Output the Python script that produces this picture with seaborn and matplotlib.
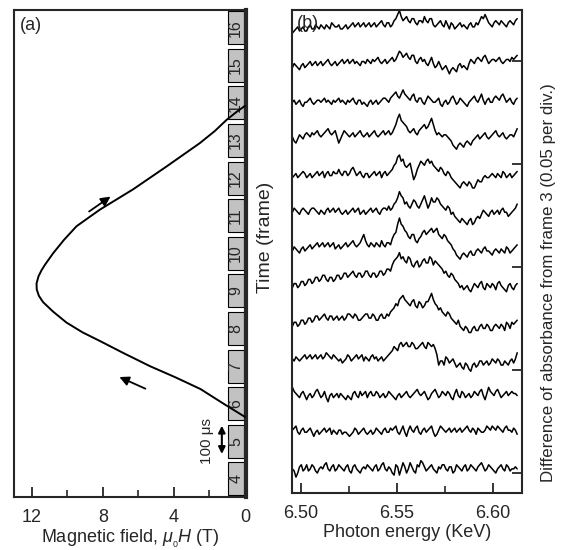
import numpy as np
import pandas as pd
import matplotlib
matplotlib.use('Agg')
import matplotlib.pyplot as plt
import seaborn as sns
from matplotlib.patches import Rectangle

# (a) pulsed field: time in frames vs field in T
pulse_frame = [5.65, 6.0, 6.39, 6.7, 7.0, 7.35, 7.67, 7.9, 8.16, 8.45, 8.7, 8.87, 9.04, 9.2,
               9.39, 9.55, 9.7, 10.0, 10.35, 10.72, 11.16, 11.7, 12.31, 12.93, 13.25, 13.55,
               13.75, 13.92]
pulse_field = [0.0, 1.2, 2.5, 3.9, 5.35, 6.85, 8.17, 9.15, 10.05, 10.8, 11.36, 11.6, 11.72, 11.73,
               11.62, 11.45, 11.25, 10.8, 10.2, 9.48, 8.17, 6.3, 4.41, 2.54, 1.7, 1.03,
               0.5, 0.0]
frames = list(range(4, 17))

# (b) difference spectra (1e-3 absorbance) for frames 4..16
# coarse samples (64 per frame) ...
spectra = {
    4: [0, -4, 1, -1, 2, 0, 1, -2, 1, 2, 0, 1, -1, 2, 0, 1,
        -1, 1, 0, -2, 1, 2, 0, 1, -1, 2, 0, 1, -2, 2, -3, 3,
        -2, 3, -1, 2, 4, 1, 0, 2, -1, 1, 2, 0, 1, -2, 2, 0,
        1, -1, 2, 0, 1, 3, -1, 2, 0, -2, 1, 0, 2, -1, 0, 0],
    5: [1, 3, -1, 2, 0, 2, -2, 1, 0, 2, 1, -1, 0, 1, -1, 0,
        -2, 0, 1, 0, 2, -1, 1, 0, 1, -1, 2, 0, 1, 3, -1, 3,
        -2, 3, 0, 3, -1, 2, 1, 3, -2, 1, 2, 0, 2, 1, 0, 2,
        1, 3, 0, 1, 2, 0, 1, 2, 3, 1, 2, 0, 3, 1, 2, -1],
    6: [4, 1, -1, 2, -2, 1, 0, 3, -1, 2, -3, 1, 0, -1, 0, -2,
        -1, 1, 0, 2, 1, -1, 2, 0, 1, 0, -1, 2, 0, -2, 1, 0,
        2, -1, 1, 3, 0, 2, -2, 1, 3, -1, 2, 0, 1, -2, 3, -1,
        1, 0, -1, 2, 0, 3, -2, 4, 1, 2, 1, 0, 2, 1, 1, 0],
    7: [0, 1, -1, 1, 0, 2, 1, 0, 2, 1, 2, 0, 1, -1, -2, 0,
        1, 0, 2, 1, -1, 0, 1, 0, -1, 1, 0, 2, 4, 5, 7, 6,
        8, 6, 7, 5, 7, 6, 8, 6, 5, -3, -1, 1, -2, 0, -4, -2,
        -5, -3, -6, -2, -3, -1, -2, -3, 0, -2, -1, -3, -2, -1, -2, 3],
    8: [-2, 0, -1, 1, 0, 2, 1, 3, 2, 4, 1, 3, 2, 1, 3, 2,
        4, 2, 3, 1, 3, 4, 2, 3, 1, 4, 2, 3, 6, 9, 11, 13,
        10, 8, 11, 7, 9, 8, 10, 14, 9, 6, 5, 3, 4, 1, -1, -2,
        -4, -3, -5, -2, -4, -1, -3, -2, -4, -1, -3, -2, 0, -3, -1, 1],
    9: [-1, 1, 0, 2, 1, 3, 2, 4, 3, 5, 2, 4, 3, 5, 4, 6,
        5, 7, 4, 6, 5, 7, 4, 6, 5, 7, 6, 8, 10, 13, 16, 14,
        11, 13, 9, 12, 10, 13, 11, 13, 12, 10, 8, 7, 4, 5, 2, -1,
        -2, 0, -3, 1, -1, 2, -2, 0, 1, -2, 2, -1, -3, 1, -2, 1],
    10: [-1, 0, -2, 1, 0, 2, 1, 3, 2, 1, 3, 2, 0, 2, 1, 3,
         2, 4, 1, 3, 7, 2, 3, 1, 2, 4, 1, 3, 5, 8, 15, 11,
         8, 5, 7, 3, 6, 9, 8, 10, 9, 7, 5, 6, 3, 0, -3, -5,
         -2, -4, -1, -3, 0, -2, 1, -1, -3, 0, -2, -1, 1, -2, 0, 2],
    11: [0, 1, -1, 2, 0, 1, 2, 0, 1, -1, 2, 1, 0, 2, -1, 1,
         0, 2, 1, -1, 1, 0, 2, 1, 0, 1, 2, 3, 2, 5, 10, 7,
         5, 2, 6, 3, 4, 8, 2, 7, 5, 6, 3, 1, 2, 0, -3, -5,
         -4, -6, -3, -5, -2, -1, 0, -2, 1, 0, -1, 2, 0, -1, 1, 4],
    12: [-1, 1, 0, 2, -1, 1, 0, 2, 1, -1, 2, 0, 1, 3, 0, 2,
         1, 4, 0, 2, -1, 1, 0, 2, 1, -1, 2, 1, 3, 6, 10, 8,
         4, 6, -2, 3, 7, 5, 8, 7, 4, 2, 3, 0, 1, -2, -4, -6,
         -3, -5, -4, -6, -2, -3, 0, -1, 1, -1, 0, 2, -1, 1, 0, 2],
    13: [1, -2, 2, 0, 3, 1, 2, 4, 1, 3, 5, 2, 4, -2, 2, 3,
         1, 3, 2, 4, 1, 3, 2, 4, 1, 3, 2, 4, 3, 7, 12, 8,
         6, 3, 5, 2, 5, 7, 6, 10, 4, 3, 1, 2, 0, -3, -5, -2,
         -4, -1, -3, 0, 2, 1, 3, 0, 2, 4, 1, 3, 0, 2, 1, 5],
    14: [0, -1, 1, -2, 0, 2, -1, 1, 0, 2, 1, -1, 0, 2, 1, -1,
         0, 2, -1, 1, 0, -2, 1, 0, -1, 1, 2, 0, 3, 5, 2, 6,
         3, 1, 4, 0, 2, -1, 3, 1, 0, 2, -2, 1, 0, 3, -1, 2,
         0, -2, 1, 3, 0, 4, -1, 2, 0, 3, 1, 4, 0, 2, -1, 2],
    15: [-1, 0, -2, 1, 0, 2, 1, 0, 2, 1, 3, 0, 2, 1, 3, 2,
         1, 3, 2, 0, 2, 3, 1, 2, 4, 1, 3, 2, 4, 3, 7, 4,
         6, 3, 5, 1, 4, 3, 0, 4, -1, 2, -2, 0, -4, -1, -3, 1,
         0, -2, 3, 1, 4, 2, 5, 1, 3, 2, 4, 1, 3, 2, 3, 5],
    16: [-2, 0, -1, 1, -1, 2, 0, 1, 2, 0, 1, 3, 1, 2, 0, 2,
         1, 3, 2, 1, 3, 2, 1, 3, 2, 4, 1, 3, 2, 5, 9, 4,
         6, 3, 5, 2, 4, 6, 3, 5, 1, 3, 2, 4, 0, 2, 1, 3,
         2, 0, 3, 1, 2, 6, 7, 3, 1, 4, 2, 3, 1, 4, 2, 5],
}
# ... and the half-step samples in between them (63 per frame)
spectra_mid = {
    4: [-1, -2, 2, 0, -1, 2, -1, 0, 0, 3, -1, 2, 0, 1, -1, 2,
        -2, 2, -1, 0, 0, 1, -1, 2, 0, 3, -1, 0, -3, 1, 0, 1,
        0, 1, -2, 1, 3, -1, 1, 0, -2, 0, 2, -1, 1, -1, 1, -1,
        2, 0, 1, -1, 2, 1, 0, 1, -1, 0, 2, -1, 1, 0, 1],
    5: [2, 0, 1, 0, 1, 0, 0, -1, 1, 0, 2, 1, -1, 1, 0, -1,
        -1, 2, -1, 1, 0, 0, -1, 2, 0, 1, 0, 2, 2, 0, 1, 0,
        1, 1, 2, 0, 1, 0, 2, 0, -1, 3, 1, 1, 0, 2, 1, 0,
        2, 1, 2, -1, 1, 0, 3, 1, 2, 3, 1, 2, 1, 0, 1],
    6: [2, 0, 1, 0, 0, -1, 2, 1, 0, -1, 0, -1, 1, 1, -1, 0,
        -2, 2, -1, 0, 2, 1, 0, 2, -1, 1, 0, 1, -1, 0, -1, 1,
        0, 0, 2, 1, 1, 0, -1, 2, 1, 0, 1, 2, -1, 1, 0, 2,
        -1, 1, 0, 1, 2, 0, 1, 2, 0, 3, -1, 1, 0, 2, 1],
    7: [-1, 0, 0, 2, 1, 0, 2, 1, 0, 3, 1, 2, 0, 0, -1, 2,
        -1, 1, 0, 2, 1, -1, 2, 1, 0, -1, 1, 3, 6, 4, 8, 7,
        6, 8, 5, 6, 8, 5, 7, 7, 2, -1, -3, 0, -1, -2, -3, -4,
        -2, -5, -3, -4, -1, -3, -1, -2, -1, 0, -3, -1, -3, 0, 0],
    8: [0, -2, 1, -1, 2, 0, 3, 1, 3, 2, 3, 1, 3, 2, 1, 4,
        3, 4, 1, 2, 4, 2, 4, 1, 3, 2, 4, 5, 7, 8, 12, 11,
        9, 10, 8, 10, 7, 10, 12, 11, 8, 7, 4, 5, 2, 0, 1, -3,
        -2, -5, -3, -4, -2, -3, -1, -4, -2, -2, -1, -4, -1, 0, 0],
    9: [1, -1, 2, 0, 3, 1, 4, 2, 5, 3, 4, 2, 5, 3, 6, 4,
        6, 5, 6, 4, 7, 5, 6, 4, 7, 5, 8, 7, 12, 14, 13, 12,
        14, 10, 11, 9, 12, 11, 14, 10, 11, 9, 6, 5, 6, 3, 1, 0,
        -1, -2, -1, 0, 1, -1, 1, -1, 0, 1, 0, -2, 0, -1, 0],
    10: [1, -1, 0, -1, 1, 0, 2, 1, 3, 2, 1, 3, 1, 0, 2, 1,
         3, 2, 2, 5, 4, 1, 2, 3, 1, 2, 3, 2, 7, 12, 12, 9,
         6, 7, 4, 5, 8, 7, 9, 8, 10, 6, 7, 4, 2, -1, -4, -3,
         -3, -2, -3, -1, -1, 0, -1, -2, -1, -1, 0, -2, 0, -1, 1],
    11: [2, 0, 1, 1, -1, 2, 1, -1, 0, 1, 0, 2, 1, 0, 0, -1,
         1, 0, 2, 0, -1, 1, 0, 2, -1, 2, 1, 1, 4, 7, 8, 4,
         3, 4, 5, 2, 6, 5, 4, 5, 7, 4, 2, 3, -1, -2, -4, -3,
         -5, -4, -6, -3, -3, 1, -1, 0, -1, 1, 1, 0, -2, 0, 2],
    12: [0, -1, 1, 1, 0, -1, 1, 0, 2, 1, 0, 2, 1, 1, 2, 0,
         3, 2, 1, 0, 1, -1, 1, 0, 2, 1, 0, 2, 5, 9, 7, 5,
         5, 2, 0, 5, 6, 7, 6, 5, 3, 4, 1, 2, -1, -3, -5, -4,
         -4, -3, -6, -4, -3, -1, -1, 0, 0, 1, -1, 1, 0, -1, 1],
    13: [-1, 0, 1, 2, 2, 3, 3, 2, 2, 4, 3, 3, 1, 0, 4, 2,
         2, 1, 3, 2, 2, 1, 3, 2, 2, 4, 3, 2, 5, 10, 9, 7,
         4, 4, 3, 4, 6, 5, 8, 7, 2, 2, 2, 1, -1, -4, -3, -3,
         -2, -2, -1, 1, 0, 2, 1, 1, 3, 2, 2, 1, 1, 2, 3],
    14: [1, 0, -1, 0, 1, 0, 0, 1, 1, 0, 0, 1, 1, 0, 0, 1,
         1, 0, 1, -1, -1, 0, -1, 1, 0, 2, 1, 2, 4, 3, 4, 4,
         2, 3, 1, 2, 0, 1, 2, 0, 1, -1, 0, -1, 2, 1, 0, 1,
         -1, 0, 2, 1, 2, 1, 1, 0, 2, 2, 3, 2, 1, 0, 1],
    15: [1, -1, 0, -1, 1, 0, 2, 1, 0, 2, 1, 1, 0, 2, 1, 3,
         2, 1, 1, 2, 1, 2, 3, 3, 2, 2, 1, 3, 2, 5, 6, 5,
         4, 5, 2, 3, 2, 1, 2, 1, 0, 0, -1, -2, -2, -2, 0, -1,
         -1, 1, 2, 3, 3, 4, 3, 2, 3, 3, 2, 2, 3, 4, 4],
    16: [-1, 1, 0, -1, 1, 0, 2, 0, 1, 2, 0, 2, 1, 0, 1, 0,
         2, 1, 3, 2, 1, 3, 2, 1, 3, 2, 3, 1, 4, 7, 6, 5,
         4, 5, 3, 4, 3, 4, 5, 2, 2, 4, 1, 2, 3, 0, 2, 1,
         1, 2, 1, 3, 4, 5, 5, 2, 3, 3, 4, 2, 3, 3, 4],
}
energy = np.linspace(6.4955, 6.6125, 127)

sns.set_style('ticks')
plt.rcParams['font.family'] = ['Liberation Sans', 'DejaVu Sans']
plt.rcParams['mathtext.fontset'] = 'custom'
plt.rcParams['mathtext.rm'] = 'Liberation Sans'
plt.rcParams['mathtext.it'] = 'Liberation Sans:italic'

fig = plt.figure(figsize=(5.61, 5.50), dpi=100)
axa = fig.add_axes([14 / 561, 53 / 550, 232 / 561, 487 / 550])
axb = fig.add_axes([292 / 561, 57 / 550, 230 / 561, 483 / 550])

# ---- panel (a)
for f in frames:
    axa.add_patch(Rectangle((0.08, f - 0.44), 0.88, 0.88, fc='#c2c2c2', ec='black', lw=0.8, zorder=2))
    axa.text(0.52, f, str(f), rotation=90, ha='center', va='center', fontsize=11.5, zorder=3)

sns.lineplot(x=pulse_field, y=pulse_frame, sort=False, estimator=None, color='black', lw=1.4, ax=axa, zorder=4)

axa.annotate('', xy=(7.44, 11.55), xytext=(8.9, 11.07),
             arrowprops=dict(arrowstyle='-|>', color='black', lw=1.3, mutation_scale=14))
axa.annotate('', xy=(7.21, 6.74), xytext=(5.46, 6.37),
             arrowprops=dict(arrowstyle='-|>', color='black', lw=1.3, mutation_scale=14))
axa.annotate('', xy=(1.3, 4.59), xytext=(1.3, 5.49),
             arrowprops=dict(arrowstyle='<|-|>', color='black', lw=1.5, mutation_scale=10))
axa.text(2.15, 5.0, '100 μs', rotation=90, ha='center', va='center', fontsize=11)
axa.text(0.025, 0.985, '(a)', transform=axa.transAxes, ha='left', va='top', fontsize=13)

axa.set_xlim(13.0, -0.06)
axa.set_ylim(3.52, 16.47)
axa.set_xticks([12, 8, 4, 0])
axa.set_xticks([10, 6, 2], minor=True)
axa.set_yticks([])
axa.tick_params(axis='x', which='major', direction='in', length=7, width=1.3, labelsize=13, pad=9)
axa.tick_params(axis='x', which='minor', direction='in', length=5, width=1.2)
axa.set_xlabel(r'Magnetic field, $\mu_{_0}H$ (T)', fontsize=13, labelpad=1)
axa.set_ylabel('')
for s in axa.spines.values():
    s.set_linewidth(1.5)
axa.spines['right'].set_linewidth(3)

# ---- panel (b)
rows = []
for f in frames:
    vals = np.empty(127)
    vals[0::2] = spectra[f]
    vals[1::2] = spectra_mid[f]
    off = 0.002 + (f - 4) * 0.0178
    rows.append(pd.DataFrame({'energy': energy, 'dA': off + vals * 1e-3, 'frame': f}))
df = pd.concat(rows, ignore_index=True)

sns.lineplot(data=df, x='energy', y='dA', units='frame', estimator=None, color='black', lw=1.1, ax=axb)

axb.set_xlim(6.4953, 6.615)
axb.set_ylim(-0.0097, 0.2248)
axb.set_xticks([6.50, 6.55, 6.60])
axb.set_xticklabels(['6.50', '6.55', '6.60'])
axb.set_xticks([6.525, 6.575], minor=True)
axb.set_yticks([0, 0.05, 0.10, 0.15, 0.20])
axb.yaxis.tick_right()
axb.tick_params(axis='y', direction='in', length=7, width=1.3, labelright=False, labelleft=False)
axb.tick_params(axis='x', which='major', direction='in', length=7, width=1.3, labelsize=13, pad=9)
axb.tick_params(axis='x', which='minor', direction='in', length=5, width=1.2)
axb.set_xlabel('Photon energy (KeV)', fontsize=13, labelpad=1)
axb.set_ylabel('')
for s in axb.spines.values():
    s.set_linewidth(1.5)
axb.text(0.02, 0.99, '(b)', transform=axb.transAxes, ha='left', va='top', fontsize=13)

fig.text(265 / 561, 1 - 237 / 550, 'Time (frame)', rotation=90, ha='center', va='center', fontsize=14)
fig.text(548 / 561, 1 - 283 / 550, 'Difference of absorbance from frame 3 (0.05 per div.)',
         rotation=90, ha='center', va='center', fontsize=12.2)

fig.savefig('out.png', dpi=100)
